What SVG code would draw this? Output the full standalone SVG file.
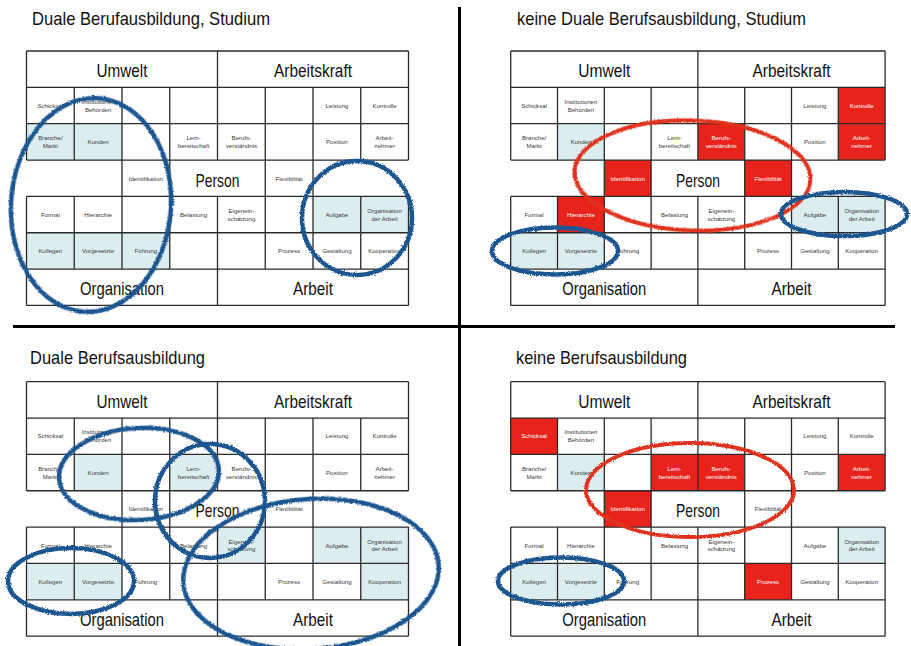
<svg xmlns="http://www.w3.org/2000/svg" xmlns:xlink="http://www.w3.org/1999/xlink" width="911" height="646" viewBox="0 0 911 646">
<style>
text{font-family:"Liberation Sans",Arial,sans-serif}
.t{font-size:19px;fill:#111}
.h{font-size:19px;fill:#111;text-anchor:middle}
.s{font-size:6.1px;fill:#3a3a3a;text-anchor:middle}
.w{font-size:6.1px;fill:#fff;text-anchor:middle}
.b{fill:#dcedf0}
.r{fill:#e8231b}
.g{fill:none;stroke:#2a2a2a;stroke-width:1.3}
.eb{fill:none;stroke:#1d5791;stroke-width:4.5;filter:url(#rough)}
.er{fill:none;stroke:#e0301e;stroke-width:4;filter:url(#rough)}
.sep{stroke:#000;stroke-width:3}
</style>
<defs>
<filter id="rough" x="-10%" y="-10%" width="120%" height="120%">
<feTurbulence type="fractalNoise" baseFrequency="0.9" numOctaves="2" seed="3"/>
<feDisplacementMap in="SourceGraphic" scale="3" xChannelSelector="R" yChannelSelector="G"/>
</filter>
<path id="gridL" class="g" d="M0 0H382M0 36.35H382M0 72.7H382M0 109.05H382M0 145.4H382M0 181.75H382M0 218.1H382M0 254.45H382M0 0V109.05M0 145.4V254.45M382 0V109.05M382 145.4V254.45M191 0V109.05M191 145.4V254.45M47.75 36.35V109.05M47.75 145.4V218.1M334.25 36.35V109.05M334.25 145.4V218.1M95.5 36.35V218.1M143.25 36.35V218.1M238.75 36.35V218.1M286.5 36.35V218.1"/>
<path id="gridR" class="g" d="M0 0H374.4M0 36.35H374.4M0 72.7H374.4M0 109.05H374.4M0 145.4H374.4M0 181.75H374.4M0 218.1H374.4M0 254.45H374.4M0 0V109.05M0 145.4V254.45M374.4 0V109.05M374.4 145.4V254.45M187.2 0V109.05M187.2 145.4V254.45M46.8 36.35V109.05M46.8 145.4V218.1M327.6 36.35V109.05M327.6 145.4V218.1M93.6 36.35V218.1M140.4 36.35V218.1M234 36.35V218.1M280.8 36.35V218.1"/>
</defs>
<rect width="911" height="646" fill="#fff"/>

<g id="separators">
<line class="sep" x1="459.5" y1="7" x2="459.5" y2="646"/>
<line class="sep" x1="13" y1="326.5" x2="895" y2="326.5"/>
</g>

<g id="titles">
<text class="t" x="32" y="25" textLength="238" lengthAdjust="spacingAndGlyphs">Duale Berufausbildung, Studium</text>
<text class="t" x="517" y="25" textLength="289" lengthAdjust="spacingAndGlyphs">keine Duale Berufsausbildung, Studium</text>
<text class="t" x="30" y="364" textLength="175" lengthAdjust="spacingAndGlyphs">Duale Berufsausbildung</text>
<text class="t" x="516" y="364" textLength="171" lengthAdjust="spacingAndGlyphs">keine Berufsausbildung</text>
</g>

<!-- Quadrant 1: top left -->
<g id="q1" transform="translate(26.5,51)">
<g id="q1-umwelt"><text class="h" x="95.5" y="26.3" textLength="51" lengthAdjust="spacingAndGlyphs">Umwelt</text></g>
<g id="q1-arbeitskraft"><text class="h" x="286.5" y="26.3" textLength="78" lengthAdjust="spacingAndGlyphs">Arbeitskraft</text></g>
<g id="q1-schicksal"><text class="s" x="23.9" y="56.8">Schicksal</text></g>
<g id="q1-institutionen"><text class="s" x="71.6" y="52.8">Institutionen</text><text class="s" x="71.6" y="60.5">Behörden</text></g>
<g id="q1-leistung"><text class="s" x="310.4" y="56.8">Leistung</text></g>
<g id="q1-kontrolle"><text class="s" x="358.1" y="56.8">Kontrolle</text></g>
<g id="q1-branche"><rect class="b" x="0" y="72.7" width="47.75" height="36.35"/><text class="s" x="23.9" y="89.2">Branche/</text><text class="s" x="23.9" y="96.9">Markt</text></g>
<g id="q1-kunden"><rect class="b" x="47.75" y="72.7" width="47.75" height="36.35"/><text class="s" x="71.6" y="93.2">Kunden</text></g>
<g id="q1-lern"><text class="s" x="167.1" y="89.2">Lern-</text><text class="s" x="167.1" y="96.9">bereitschaft</text></g>
<g id="q1-berufs"><text class="s" x="214.9" y="89.2">Berufs-</text><text class="s" x="214.9" y="96.9">verständnis</text></g>
<g id="q1-position"><text class="s" x="310.4" y="93.2">Position</text></g>
<g id="q1-arbeitnehmer"><text class="s" x="358.1" y="89.2">Arbeit-</text><text class="s" x="358.1" y="96.9">nehmer</text></g>
<g id="q1-identifikation"><text class="s" x="119.4" y="129.5">Identifikation</text></g>
<g id="q1-person"><text class="h" x="191" y="135.7" textLength="44" lengthAdjust="spacingAndGlyphs">Person</text></g>
<g id="q1-flexibilitaet"><text class="s" x="262.6" y="129.5">Flexibilität</text></g>
<g id="q1-formal"><text class="s" x="23.9" y="165.9">Formal</text></g>
<g id="q1-hierarchie"><text class="s" x="71.6" y="165.9">Hierarchie</text></g>
<g id="q1-belastung"><text class="s" x="167.1" y="165.9">Belastung</text></g>
<g id="q1-eigen"><text class="s" x="214.9" y="161.9">Eigenein-</text><text class="s" x="214.9" y="169.6">schätzung</text></g>
<g id="q1-aufgabe"><rect class="b" x="286.5" y="145.4" width="47.75" height="36.35"/><text class="s" x="310.4" y="165.9">Aufgabe</text></g>
<g id="q1-orgarbeit"><rect class="b" x="334.25" y="145.4" width="47.75" height="36.35"/><text class="s" x="358.1" y="161.9">Organisation</text><text class="s" x="358.1" y="169.6">der Arbeit</text></g>
<g id="q1-kollegen"><rect class="b" x="0" y="181.75" width="47.75" height="36.35"/><text class="s" x="23.9" y="202.2">Kollegen</text></g>
<g id="q1-vorgesetzte"><rect class="b" x="47.75" y="181.75" width="47.75" height="36.35"/><text class="s" x="71.6" y="202.2">Vorgesetzte</text></g>
<g id="q1-fuehrung"><rect class="b" x="95.5" y="181.75" width="47.75" height="36.35"/><text class="s" x="119.4" y="202.2">Führung</text></g>
<g id="q1-prozess"><text class="s" x="262.6" y="202.2">Prozess</text></g>
<g id="q1-gestaltung"><text class="s" x="310.4" y="202.2">Gestaltung</text></g>
<g id="q1-kooperation"><text class="s" x="358.1" y="202.2">Kooperation</text></g>
<g id="q1-organisation"><text class="h" x="95.5" y="244" textLength="84" lengthAdjust="spacingAndGlyphs">Organisation</text></g>
<g id="q1-arbeit"><text class="h" x="286.5" y="244" textLength="40" lengthAdjust="spacingAndGlyphs">Arbeit</text></g>
<use xlink:href="#gridL"/>
</g>

<!-- Quadrant 2: top right -->
<g id="q2" transform="translate(510.7,51)">
<g id="q2-umwelt"><text class="h" x="93.6" y="26.3" textLength="52" lengthAdjust="spacingAndGlyphs">Umwelt</text></g>
<g id="q2-arbeitskraft"><text class="h" x="280.8" y="26.3" textLength="78" lengthAdjust="spacingAndGlyphs">Arbeitskraft</text></g>
<g id="q2-schicksal"><text class="s" x="23.4" y="56.8">Schicksal</text></g>
<g id="q2-institutionen"><text class="s" x="70.2" y="52.8">Institutionen</text><text class="s" x="70.2" y="60.5">Behörden</text></g>
<g id="q2-leistung"><text class="s" x="304.2" y="56.8">Leistung</text></g>
<g id="q2-kontrolle"><rect class="r" x="327.6" y="36.35" width="46.8" height="36.35"/><text class="w" x="351" y="56.8">Kontrolle</text></g>
<g id="q2-branche"><text class="s" x="23.4" y="89.2">Branche/</text><text class="s" x="23.4" y="96.9">Markt</text></g>
<g id="q2-kunden"><rect class="b" x="46.8" y="72.7" width="46.8" height="36.35"/><text class="s" x="70.2" y="93.2">Kunden</text></g>
<g id="q2-lern"><text class="s" x="163.8" y="89.2">Lern-</text><text class="s" x="163.8" y="96.9">bereitschaft</text></g>
<g id="q2-berufs"><rect class="r" x="187.2" y="72.7" width="46.8" height="36.35"/><text class="w" x="210.6" y="89.2">Berufs-</text><text class="w" x="210.6" y="96.9">verständnis</text></g>
<g id="q2-position"><text class="s" x="304.2" y="93.2">Position</text></g>
<g id="q2-arbeitnehmer"><rect class="r" x="327.6" y="72.7" width="46.8" height="36.35"/><text class="w" x="351" y="89.2">Arbeit-</text><text class="w" x="351" y="96.9">nehmer</text></g>
<g id="q2-identifikation"><rect class="r" x="93.6" y="109.05" width="46.8" height="36.35"/><text class="w" x="117" y="129.5">Identifikation</text></g>
<g id="q2-person"><text class="h" x="187.2" y="135.7" textLength="44" lengthAdjust="spacingAndGlyphs">Person</text></g>
<g id="q2-flexibilitaet"><rect class="r" x="234" y="109.05" width="46.8" height="36.35"/><text class="w" x="257.4" y="129.5">Flexibilität</text></g>
<g id="q2-formal"><text class="s" x="23.4" y="165.9">Formal</text></g>
<g id="q2-hierarchie"><rect class="r" x="46.8" y="145.4" width="46.8" height="36.35"/><text class="w" x="70.2" y="165.9">Hierarchie</text></g>
<g id="q2-belastung"><text class="s" x="163.8" y="165.9">Belastung</text></g>
<g id="q2-eigen"><text class="s" x="210.6" y="161.9">Eigenein-</text><text class="s" x="210.6" y="169.6">schätzung</text></g>
<g id="q2-aufgabe"><rect class="b" x="280.8" y="145.4" width="46.8" height="36.35"/><text class="s" x="304.2" y="165.9">Aufgabe</text></g>
<g id="q2-orgarbeit"><rect class="b" x="327.6" y="145.4" width="46.8" height="36.35"/><text class="s" x="351" y="161.9">Organisation</text><text class="s" x="351" y="169.6">der Arbeit</text></g>
<g id="q2-kollegen"><rect class="b" x="0" y="181.75" width="46.8" height="36.35"/><text class="s" x="23.4" y="202.2">Kollegen</text></g>
<g id="q2-vorgesetzte"><rect class="b" x="46.8" y="181.75" width="46.8" height="36.35"/><text class="s" x="70.2" y="202.2">Vorgesetzte</text></g>
<g id="q2-fuehrung"><text class="s" x="117" y="202.2">Führung</text></g>
<g id="q2-prozess"><text class="s" x="257.4" y="202.2">Prozess</text></g>
<g id="q2-gestaltung"><text class="s" x="304.2" y="202.2">Gestaltung</text></g>
<g id="q2-kooperation"><text class="s" x="351" y="202.2">Kooperation</text></g>
<g id="q2-organisation"><text class="h" x="93.6" y="244" textLength="84" lengthAdjust="spacingAndGlyphs">Organisation</text></g>
<g id="q2-arbeit"><text class="h" x="280.8" y="244" textLength="40" lengthAdjust="spacingAndGlyphs">Arbeit</text></g>
<use xlink:href="#gridR"/>
</g>

<!-- Quadrant 3: bottom left -->
<g id="q3" transform="translate(26.5,381.7)">
<g id="q3-umwelt"><text class="h" x="95.5" y="26.3" textLength="51" lengthAdjust="spacingAndGlyphs">Umwelt</text></g>
<g id="q3-arbeitskraft"><text class="h" x="286.5" y="26.3" textLength="78" lengthAdjust="spacingAndGlyphs">Arbeitskraft</text></g>
<g id="q3-schicksal"><text class="s" x="23.9" y="56.8">Schicksal</text></g>
<g id="q3-institutionen"><text class="s" x="71.6" y="52.8">Institutionen</text><text class="s" x="71.6" y="60.5">Behörden</text></g>
<g id="q3-leistung"><text class="s" x="310.4" y="56.8">Leistung</text></g>
<g id="q3-kontrolle"><text class="s" x="358.1" y="56.8">Kontrolle</text></g>
<g id="q3-branche"><text class="s" x="23.9" y="89.2">Branche/</text><text class="s" x="23.9" y="96.9">Markt</text></g>
<g id="q3-kunden"><rect class="b" x="47.75" y="72.7" width="47.75" height="36.35"/><text class="s" x="71.6" y="93.2">Kunden</text></g>
<g id="q3-lern"><rect class="b" x="143.25" y="72.7" width="47.75" height="36.35"/><text class="s" x="167.1" y="89.2">Lern-</text><text class="s" x="167.1" y="96.9">bereitschaft</text></g>
<g id="q3-berufs"><text class="s" x="214.9" y="89.2">Berufs-</text><text class="s" x="214.9" y="96.9">verständnis</text></g>
<g id="q3-position"><text class="s" x="310.4" y="93.2">Position</text></g>
<g id="q3-arbeitnehmer"><text class="s" x="358.1" y="89.2">Arbeit-</text><text class="s" x="358.1" y="96.9">nehmer</text></g>
<g id="q3-identifikation"><text class="s" x="119.4" y="129.5">Identifikation</text></g>
<g id="q3-person"><text class="h" x="191" y="135.7" textLength="44" lengthAdjust="spacingAndGlyphs">Person</text></g>
<g id="q3-flexibilitaet"><text class="s" x="262.6" y="129.5">Flexibilität</text></g>
<g id="q3-formal"><text class="s" x="23.9" y="165.9">Formal</text></g>
<g id="q3-hierarchie"><text class="s" x="71.6" y="165.9">Hierarchie</text></g>
<g id="q3-belastung"><text class="s" x="167.1" y="165.9">Belastung</text></g>
<g id="q3-eigen"><rect class="b" x="191" y="145.4" width="47.75" height="36.35"/><text class="s" x="214.9" y="161.9">Eigenein-</text><text class="s" x="214.9" y="169.6">schätzung</text></g>
<g id="q3-aufgabe"><rect class="b" x="286.5" y="145.4" width="47.75" height="36.35"/><text class="s" x="310.4" y="165.9">Aufgabe</text></g>
<g id="q3-orgarbeit"><rect class="b" x="334.25" y="145.4" width="47.75" height="36.35"/><text class="s" x="358.1" y="161.9">Organisation</text><text class="s" x="358.1" y="169.6">der Arbeit</text></g>
<g id="q3-kollegen"><rect class="b" x="0" y="181.75" width="47.75" height="36.35"/><text class="s" x="23.9" y="202.2">Kollegen</text></g>
<g id="q3-vorgesetzte"><rect class="b" x="47.75" y="181.75" width="47.75" height="36.35"/><text class="s" x="71.6" y="202.2">Vorgesetzte</text></g>
<g id="q3-fuehrung"><text class="s" x="119.4" y="202.2">Führung</text></g>
<g id="q3-prozess"><text class="s" x="262.6" y="202.2">Prozess</text></g>
<g id="q3-gestaltung"><text class="s" x="310.4" y="202.2">Gestaltung</text></g>
<g id="q3-kooperation"><rect class="b" x="334.25" y="181.75" width="47.75" height="36.35"/><text class="s" x="358.1" y="202.2">Kooperation</text></g>
<g id="q3-organisation"><text class="h" x="95.5" y="244" textLength="84" lengthAdjust="spacingAndGlyphs">Organisation</text></g>
<g id="q3-arbeit"><text class="h" x="286.5" y="244" textLength="40" lengthAdjust="spacingAndGlyphs">Arbeit</text></g>
<use xlink:href="#gridL"/>
</g>

<!-- Quadrant 4: bottom right -->
<g id="q4" transform="translate(510.7,381.7)">
<g id="q4-umwelt"><text class="h" x="93.6" y="26.3" textLength="52" lengthAdjust="spacingAndGlyphs">Umwelt</text></g>
<g id="q4-arbeitskraft"><text class="h" x="280.8" y="26.3" textLength="78" lengthAdjust="spacingAndGlyphs">Arbeitskraft</text></g>
<g id="q4-schicksal"><rect class="r" x="0" y="36.35" width="46.8" height="36.35"/><text class="w" x="23.4" y="56.8">Schicksal</text></g>
<g id="q4-institutionen"><text class="s" x="70.2" y="52.8">Institutionen</text><text class="s" x="70.2" y="60.5">Behörden</text></g>
<g id="q4-leistung"><text class="s" x="304.2" y="56.8">Leistung</text></g>
<g id="q4-kontrolle"><text class="s" x="351" y="56.8">Kontrolle</text></g>
<g id="q4-branche"><text class="s" x="23.4" y="89.2">Branche/</text><text class="s" x="23.4" y="96.9">Markt</text></g>
<g id="q4-kunden"><rect class="b" x="46.8" y="72.7" width="46.8" height="36.35"/><text class="s" x="70.2" y="93.2">Kunden</text></g>
<g id="q4-lern"><rect class="r" x="140.4" y="72.7" width="46.8" height="36.35"/><text class="w" x="163.8" y="89.2">Lern-</text><text class="w" x="163.8" y="96.9">bereitschaft</text></g>
<g id="q4-berufs"><rect class="r" x="187.2" y="72.7" width="46.8" height="36.35"/><text class="w" x="210.6" y="89.2">Berufs-</text><text class="w" x="210.6" y="96.9">verständnis</text></g>
<g id="q4-position"><text class="s" x="304.2" y="93.2">Position</text></g>
<g id="q4-arbeitnehmer"><rect class="r" x="327.6" y="72.7" width="46.8" height="36.35"/><text class="w" x="351" y="89.2">Arbeit-</text><text class="w" x="351" y="96.9">nehmer</text></g>
<g id="q4-identifikation"><rect class="r" x="93.6" y="109.05" width="46.8" height="36.35"/><text class="w" x="117" y="129.5">Identifikation</text></g>
<g id="q4-person"><text class="h" x="187.2" y="135.7" textLength="44" lengthAdjust="spacingAndGlyphs">Person</text></g>
<g id="q4-flexibilitaet"><text class="s" x="257.4" y="129.5">Flexibilität</text></g>
<g id="q4-formal"><text class="s" x="23.4" y="165.9">Formal</text></g>
<g id="q4-hierarchie"><text class="s" x="70.2" y="165.9">Hierarchie</text></g>
<g id="q4-belastung"><text class="s" x="163.8" y="165.9">Belastung</text></g>
<g id="q4-eigen"><text class="s" x="210.6" y="161.9">Eigenein-</text><text class="s" x="210.6" y="169.6">schätzung</text></g>
<g id="q4-aufgabe"><text class="s" x="304.2" y="165.9">Aufgabe</text></g>
<g id="q4-orgarbeit"><rect class="b" x="327.6" y="145.4" width="46.8" height="36.35"/><text class="s" x="351" y="161.9">Organisation</text><text class="s" x="351" y="169.6">der Arbeit</text></g>
<g id="q4-kollegen"><rect class="b" x="0" y="181.75" width="46.8" height="36.35"/><text class="s" x="23.4" y="202.2">Kollegen</text></g>
<g id="q4-vorgesetzte"><rect class="b" x="46.8" y="181.75" width="46.8" height="36.35"/><text class="s" x="70.2" y="202.2">Vorgesetzte</text></g>
<g id="q4-fuehrung"><text class="s" x="117" y="202.2">Führung</text></g>
<g id="q4-prozess"><rect class="r" x="234" y="181.75" width="46.8" height="36.35"/><text class="w" x="257.4" y="202.2">Prozess</text></g>
<g id="q4-gestaltung"><text class="s" x="304.2" y="202.2">Gestaltung</text></g>
<g id="q4-kooperation"><text class="s" x="351" y="202.2">Kooperation</text></g>
<g id="q4-organisation"><text class="h" x="93.6" y="244" textLength="84" lengthAdjust="spacingAndGlyphs">Organisation</text></g>
<g id="q4-arbeit"><text class="h" x="280.8" y="244" textLength="40" lengthAdjust="spacingAndGlyphs">Arbeit</text></g>
<use xlink:href="#gridR"/>
</g>

<!-- Hand-drawn circles -->
<g id="connectors">
<ellipse class="eb" cx="91" cy="205" rx="80" ry="107" transform="rotate(4 91 205)"/>
<ellipse class="eb" cx="357" cy="218" rx="55" ry="57"/>
<ellipse class="er" cx="692.5" cy="175.5" rx="118" ry="55" transform="rotate(2 692.5 175.5)"/>
<ellipse class="eb" cx="844" cy="214" rx="63" ry="22"/>
<ellipse class="eb" cx="555" cy="251" rx="63" ry="23.5"/>
<ellipse class="eb" cx="139" cy="474" rx="80" ry="46" transform="rotate(-3 139 474)"/>
<ellipse class="eb" cx="210" cy="501" rx="55" ry="57"/>
<ellipse class="eb" cx="311" cy="574" rx="128" ry="75" transform="rotate(-4 311 574)"/>
<ellipse class="eb" cx="71" cy="581" rx="63" ry="33"/>
<ellipse class="er" cx="690" cy="490" rx="104" ry="47"/>
<ellipse class="eb" cx="561" cy="581" rx="63" ry="23.5"/>
</g>
</svg>
